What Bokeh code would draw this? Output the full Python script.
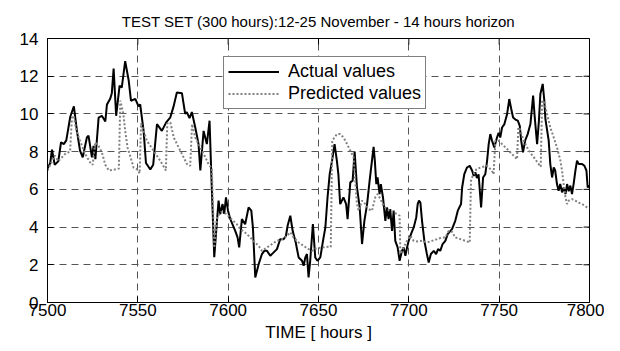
import math
from bokeh.plotting import figure
from bokeh.models import Legend, LegendItem, FixedTicker, Range1d
from bokeh.embed import file_html
from bokeh.resources import INLINE

title_text = "TEST SET (300 hours):12-25 November - 14 hours horizon"
x_label = "TIME [ hours ]"
x_ticks = [7500, 7550, 7600, 7650, 7700, 7750, 7800]
y_ticks = [0, 2, 4, 6, 8, 10, 12, 14]

t_actual = [7500, 7501.5, 7502.5, 7504, 7506, 7507.5, 7509, 7510.4, 7512.6, 7514.6, 7516.3, 7518, 7519.5,
            7521.8, 7522.7, 7524.6, 7525.5, 7526.5, 7528.3, 7530.1, 7532, 7532.9, 7534.7, 7535.6, 7536.6,
            7538, 7539.9, 7541.1, 7543, 7544.9, 7546.2, 7548.6, 7550.4, 7551.3, 7553.2, 7554.5, 7556.9,
            7558.5, 7560.6, 7563.3, 7565.7, 7567.9, 7569.8, 7571.6, 7574.4, 7576.2, 7577.1, 7578.6, 7579.9,
            7581.8, 7583.6, 7584.6, 7586.4, 7588.2, 7589.7, 7590.6, 7592.3, 7593.8, 7594.7, 7595.6, 7596.9,
            7597.8, 7598.8, 7599.9, 7601.2, 7603.9, 7605.2, 7606.1, 7607.6, 7609.4, 7611.3, 7612.8, 7613.7,
            7615, 7616.9, 7618.7, 7620, 7621.5, 7623.3, 7625.2, 7627, 7628.8, 7630.7, 7632, 7632.9, 7634.4,
            7635.7, 7637.4, 7639, 7640.9, 7641.8, 7642.7, 7643.6, 7644.5, 7645.4, 7646.9, 7648.2, 7649.4,
            7651, 7652.5, 7653.8, 7655, 7656.2, 7657.5, 7658.9, 7660.2, 7661, 7662, 7663.8, 7665.3, 7666.1,
            7667.6, 7668.9, 7670, 7671.3, 7672.8, 7674.1, 7675.4, 7676.9, 7678.3, 7679.6, 7680.5, 7681.2,
            7682, 7682.7, 7683.8, 7684.5, 7685.7, 7687, 7687.9, 7688.8, 7689.7, 7690.7, 7691.6, 7692.5,
            7693.8, 7694.9, 7696.2, 7697.1, 7698.1, 7699, 7699.9, 7701.2, 7702.7, 7704.1, 7704.9, 7705.6,
            7706.4, 7707.3, 7708.6, 7710, 7711, 7712.2, 7713.8, 7715.1, 7716.2, 7717.4, 7718.7, 7720.2,
            7721.5, 7723.9, 7725.7, 7727.1, 7728.9, 7729.5, 7730.7, 7732.2, 7733.7, 7735, 7735.9, 7736.8,
            7737.7, 7738.6, 7740, 7741.1, 7742.3, 7743.3, 7744.2, 7745.1, 7746, 7747.3, 7748.8, 7749.7,
            7750.6, 7751.6, 7752.9, 7754.4, 7755.6, 7756.6, 7757.7, 7759, 7760.3, 7761.4, 7762.2, 7763.2,
            7764.4, 7765.8, 7767.3, 7768.8, 7769.7, 7771, 7772, 7772.8, 7774.1, 7775, 7775.6, 7777.4,
            7778.3, 7779.3, 7780.2, 7781, 7782, 7782.9, 7783.8, 7784.8, 7785.7, 7786.7, 7787.6, 7788.5,
            7789.4, 7790.3, 7791.2, 7792.2, 7793.1, 7794, 7795.9, 7797.2, 7798.3, 7799, 7800]
v_actual = [7.1, 7.4, 8.1, 7.3, 7.5, 8.5, 8.4, 8.6, 9.85, 10.4, 9.1, 8.05, 7.7,
            8.75, 8.85, 7.7, 8.3, 7.6, 9.8, 9.9, 9.6, 10.5, 10.8, 11.1, 12.4,
            9.9, 11.5, 11.4, 12.8, 11.8, 10.7, 10.8, 10.4, 10.5, 9.1, 7.4, 7.05,
            7.3, 9.46, 9.1, 9.55, 9.8, 10.4, 11.14, 11.1, 10.0, 10.1, 9.78, 10.1,
            9.28, 8.4, 7.0, 9.1, 8.4, 9.64, 7.0, 2.4, 4.33, 5.4, 4.69, 5.22,
            4.7, 5.57, 4.87, 4.42, 3.8, 3.45, 2.92, 4.42, 4.15, 5.04, 4.87, 3.98,
            1.33, 2.04, 2.57, 2.74, 2.74, 2.48, 2.66, 2.83, 3.36, 3.36, 3.54, 4.07, 4.6,
            3.8, 3.18, 2.39, 2.21, 1.95, 2.39, 2.57, 1.33, 2.21, 4.16, 2.39, 2.21,
            2.39, 3.27, 3.98, 5.57, 6.81, 7.52, 8.4, 7.5, 6.8, 5.22, 5.57, 5.22, 4.42,
            6.37, 6.46, 8.0, 6.1, 5.04, 3.1, 4.33, 5.22, 6.46, 7.52, 8.25, 7.5,
            6.28, 6.64, 5.75, 6.28, 5.57, 4.33, 5.04, 4.42, 4.95, 3.8, 4.87, 3.27,
            2.92, 2.21, 2.74, 2.92, 2.48, 2.92, 3.27, 3.63, 3.98, 4.51, 5.22, 5.4,
            5.3, 4.33, 3.27, 2.57, 2.12, 2.57, 2.74, 2.57, 2.83, 2.74, 3.1, 3.27,
            3.63, 3.89, 4.33, 4.87, 5.22, 6.1, 6.81, 7.16, 7.25, 7.0, 6.72, 6.9,
            6.6, 6.8, 5.04, 6.63, 6.8, 7.5, 8.4, 8.93, 8.6, 8.22, 8.75, 9.0,
            8.75, 9.28, 9.46, 10.0, 10.79, 10.3, 9.81, 9.7, 9.64, 9.37, 8.57, 7.96,
            8.6, 8.93, 9.46, 10.97, 9.8, 8.4, 9.64, 11.06, 11.59, 10.7, 9.72, 8.6,
            7.34, 6.63, 7.16, 7.0, 6.28, 5.92, 6.28, 5.84, 6.1, 5.75, 6.28, 5.9,
            6.2, 5.75, 6.28, 6.99, 7.52, 7.35, 7.34, 7.25, 7.0, 6.1, 6.2]

t_pred = [7500, 7502, 7504, 7506, 7508, 7510, 7512.5, 7513.5, 7514.5, 7516, 7518, 7520.9, 7523.6, 7525,
          7526.4, 7528.3, 7530.1, 7532, 7534, 7537, 7539.5, 7540.3, 7542, 7543, 7544.3, 7546, 7547.6,
          7549.5, 7551, 7551.8, 7555, 7558.7, 7562.4, 7564.6, 7565.5, 7566.3, 7568, 7569.9, 7573.5,
          7577.2, 7579, 7580, 7581.8, 7584.6, 7587.4, 7589.1, 7591, 7592.3, 7593.8, 7596, 7599, 7601,
          7604.8, 7606.7, 7610.4, 7614, 7616.9, 7618.7, 7621.5, 7624.3, 7627, 7629.8, 7632.6, 7634.4,
          7636.2, 7639, 7641.8, 7644.5, 7646.4, 7648, 7651.9, 7655, 7656.8, 7657.6, 7660.2, 7662,
          7663.9, 7665.8, 7667.6, 7669.4, 7670.3, 7671.3, 7672.2, 7674.1, 7675.9, 7677.8, 7679.6,
          7681.4, 7682.7, 7684.2, 7686, 7687.9, 7689.7, 7691.6, 7693.5, 7694.9, 7695.3, 7697.1, 7699,
          7700.8, 7702.7, 7704.5, 7707.3, 7710, 7712.8, 7715.6, 7718.3, 7720.2, 7722.1, 7723.9, 7725.7,
          7728.5, 7731.3, 7733.7, 7734.4, 7735, 7737.4, 7739.7, 7743.3, 7746, 7746.9, 7747.9, 7749.7,
          7751.6, 7754.4, 7757.1, 7759.9, 7760.6, 7761.4, 7763.6, 7766.4, 7769.2, 7771.9, 7773, 7773.8,
          7775, 7776.5, 7778.3, 7780.2, 7782, 7783.9, 7784.8, 7785.7, 7786.7, 7787.6, 7788.5, 7790.3,
          7792.2, 7793.9, 7795.9, 7798.7, 7800]
v_pred = [7.0, 7.4, 7.8, 7.5, 7.7, 7.9, 8.0, 9.8, 9.9, 9.1, 8.58, 7.87, 7.43, 7.3,
          8.49, 8.3, 7.96, 7.3, 7.0, 7.05, 7.1, 10.7, 10.0, 9.1, 8.22, 7.7, 7.16,
          7.07, 6.85, 9.5, 8.58, 8.05, 7.52, 7.16, 7.0, 9.5, 9.55, 8.75, 8.05,
          7.34, 7.25, 9.46, 8.75, 8.22, 7.7, 7.34, 7.1, 2.9, 4.5, 4.8, 4.7, 4.5,
          4.15, 3.9, 3.63, 3.27, 3.0, 2.74, 2.92, 3.1, 3.27, 3.36, 3.54, 3.72,
          3.45, 3.18, 3.0, 2.83, 2.74, 2.85, 2.92, 2.95, 2.95, 8.58, 8.93, 8.93,
          8.75, 8.4, 8.05, 7.7, 6.46, 5.22, 4.87, 5.4, 5.22, 4.95, 4.87,
          5.57, 5.75, 5.5, 5.13, 4.95, 4.87, 4.77, 4.69, 4.6, 2.6, 2.92, 3.27,
          3.54, 3.27, 3.24, 3.27, 3.18, 3.27, 3.36, 3.45, 3.45, 3.8, 3.75, 3.45,
          3.36, 3.27, 3.18, 6.46, 6.63, 7.07, 7.16, 7.25, 6.99, 6.8, 8.58, 8.58,
          8.4, 8.14, 7.87, 7.6, 9.28, 9.2, 8.58, 8.05, 7.7, 7.34, 7.2, 10.7,
          10.6, 10.0, 9.28, 8.75, 8.22, 7.52, 7.0, 6.28, 5.57, 5.22, 5.4, 5.48,
          5.4, 5.3, 5.22, 5.04, 5.0]

FONT = "Liberation Sans"

p = figure(width=604, height=347, x_range=Range1d(x_ticks[0], x_ticks[-1]),
           y_range=Range1d(y_ticks[0], y_ticks[-1]),
           output_backend="svg", toolbar_location=None,
           min_border_left=47, min_border_right=15, min_border_top=38, min_border_bottom=45)

p.title.text = title_text
p.title.align = "center"
p.title.text_font = FONT
p.title.text_font_size = "15px"
p.title.text_font_style = "normal"
p.title.text_color = "black"
p.title.standoff = 17
p.title.offset = 0

p.outline_line_color = "black"
p.outline_line_width = 1
p.background_fill_color = "white"
p.border_fill_color = "white"

for ax in (p.xaxis[0], p.yaxis[0]):
    ax.major_tick_in = 6
    ax.major_tick_out = 0
    ax.minor_tick_line_color = None
    ax.axis_line_color = "black"
    ax.major_tick_line_color = "black"
    ax.major_label_text_font = FONT
    ax.major_label_text_font_size = "17px"
    ax.major_label_text_color = "black"

p.xaxis.ticker = FixedTicker(ticks=x_ticks)
p.yaxis.ticker = FixedTicker(ticks=y_ticks)
p.xaxis.major_label_standoff = 1
p.yaxis.major_label_standoff = 9
p.xaxis.axis_label = x_label
p.xaxis.axis_label_text_font = FONT
p.xaxis.axis_label_text_font_size = "17px"
p.xaxis.axis_label_text_font_style = "normal"
p.xaxis.axis_label_text_color = "black"
p.xaxis.axis_label_standoff = 4

p.xgrid.ticker = FixedTicker(ticks=x_ticks)
p.ygrid.ticker = FixedTicker(ticks=y_ticks)
for g in (p.xgrid[0], p.ygrid[0]):
    g.grid_line_color = "#555555"
    g.grid_line_dash = "7 5"
    g.grid_line_width = 1

# inward ticks on the top and right borders (MATLAB box style)
p.scatter(x=x_ticks, y=[y_ticks[-1]] * len(x_ticks), marker="dash", size=12,
          angle=math.pi / 2, line_color="black", line_width=1)
p.scatter(x=[x_ticks[-1]] * len(y_ticks), y=y_ticks, marker="dash", size=12,
          line_color="black", line_width=1)

r_act = p.line(t_actual, v_actual, line_color="black", line_width=2)
r_pred = p.line(t_pred, v_pred, line_color="#808080", line_width=2, line_dash="2 2")

legend = Legend(items=[LegendItem(label="Actual values", renderers=[r_act]),
                       LegendItem(label="Predicted values", renderers=[r_pred])],
                location=(176, 193))
legend.label_text_font = FONT
legend.label_text_font_size = "18px"
legend.label_text_color = "black"
legend.border_line_color = "black"
legend.border_line_width = 1
legend.background_fill_alpha = 1
legend.glyph_width = 51
legend.glyph_height = 19
legend.label_height = 19
legend.label_standoff = 9
legend.padding = 4
legend.spacing = 1
legend.margin = 0
p.add_layout(legend, "center")

open("out.html", "w").write(file_html(p, INLINE))
